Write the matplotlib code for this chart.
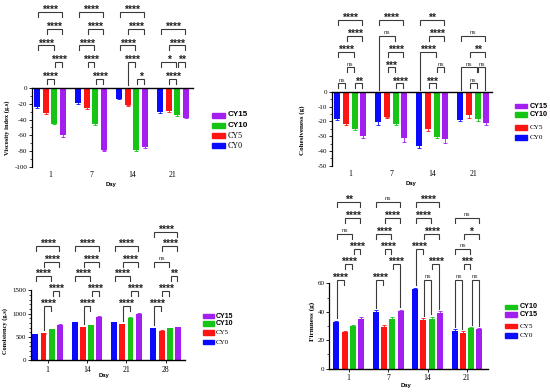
import numpy as np
import matplotlib
matplotlib.use('Agg')
import matplotlib.pyplot as plt
from matplotlib.patches import Rectangle
from matplotlib.transforms import blended_transform_factory
from matplotlib.ticker import MultipleLocator

plt.rcParams['axes.unicode_minus'] = False

# ---------------- data ----------------
series = ['CY0', 'CY5', 'CY10', 'CY15']
days_a = ['1', '7', '14', '21']
days_c = ['1', '14', '21', '28']

# values per series (CY0, CY5, CY10, CY15), per day
viscosity = [[-24, -19, -13.5, -30],
             [-31.5, -25, -22, -28.5],
             [-45, -45.5, -78, -34],
             [-60, -79, -75, -37.5]]
viscosity_err = [[1.5, 1, 1, 2], [2, 1, 1, 2], [1, 1, 2, 1], [1.5, 1, 1, 1]]

cohesiveness = [[-18.3, -20.6, -36.7, -19],
                [-21.7, -17.2, -25.3, -15.8],
                [-25.1, -21.7, -30.3, -18.6],
                [-29.9, -31.4, -32.1, -20.8]]
cohesiveness_err = [[1, 2, 1, 1], [1, 0.5, 1, 1.5], [1, 1, 1, 1], [1.5, 2.5, 2.5, 1.5]]

consistency = [[557, 814, 814, 685],
               [578, 714, 778, 635],
               [664, 757, 914, 692],
               [757, 935, 992, 707]]
consistency_err = [[10, 12, 12, 10], [10, 10, 10, 10], [12, 10, 12, 10], [12, 12, 12, 10]]

firmness = [[32.6, 40.1, 55.8, 26.5],
            [26.0, 29.3, 34.2, 25.3],
            [30.0, 35.2, 35.2, 28.4],
            [35.2, 40.3, 39.4, 27.7]]
firmness_err = [[1, 1, 1, 1.2], [0.8, 1.5, 1.2, 1], [0.8, 1, 1.2, 0.8], [0.8, 1.2, 1, 0.6]]

# significance annotations: (day index, series i, series j, row, label, long legs)
sig_viscosity = [
    (0, 0, 3, 0, '****'), (0, 1, 3, 1, '****'), (0, 0, 2, 2, '****'), (0, 2, 3, 3, '****'), (0, 1, 2, 4, '****'),
    (1, 0, 3, 0, '****'), (1, 1, 3, 1, '****'), (1, 0, 2, 2, '****'), (1, 1, 2, 3, '****'), (1, 2, 3, 4, '****'),
    (2, 0, 3, 0, '****'), (2, 1, 3, 1, '****'), (2, 0, 2, 2, '****'), (2, 1, 2, 3, '****', 'L'), (2, 2, 3, 4, '*'),
    (3, 0, 3, 1, '****'), (3, 1, 3, 2, '****'), (3, 0, 2, 3, '*'), (3, 2, 3, 3, '**'), (3, 1, 2, 4, '****'),
]
sig_cohesiveness = [
    (0, 0, 3, 0, '****'), (0, 1, 3, 1, '****'), (0, 0, 2, 2, '****'), (0, 1, 2, 3, 'ns'), (0, 0, 1, 4, 'ns'), (0, 2, 3, 4, '**'),
    (1, 0, 3, 0, '****'), (1, 0, 2, 1, 'ns', 'L'), (1, 1, 3, 2, '****'), (1, 1, 2, 3, '***'), (1, 2, 3, 4, '****'),
    (2, 0, 3, 0, '**'), (2, 1, 3, 1, '****'), (2, 0, 2, 2, '****', 'L'), (2, 2, 3, 3, 'ns'), (2, 1, 2, 4, '***'),
    (3, 0, 3, 1, 'ns'), (3, 1, 3, 2, '**'), (3, 0, 2, 3, 'ns', 'L'), (3, 2, 3, 3, 'ns', 'R'), (3, 1, 2, 4, 'ns'),
]
sig_consistency = [
    (0, 0, 3, 1, '****'), (0, 1, 3, 2, '****'), (0, 0, 2, 3, '****'), (0, 2, 3, 4, '****'), (0, 1, 2, 5, '****', 'L'),
    (1, 0, 3, 1, '****'), (1, 1, 3, 2, '****'), (1, 0, 2, 3, '****'), (1, 2, 3, 4, '****'), (1, 1, 2, 5, '****', 'L'),
    (2, 0, 3, 1, '****'), (2, 1, 3, 2, '****'), (2, 0, 2, 3, '****'), (2, 2, 3, 4, '****'), (2, 1, 2, 5, '****', 'L'),
    (3, 0, 3, 0, '****'), (3, 1, 3, 1, '****'), (3, 0, 2, 2, 'ns'), (3, 2, 3, 3, '**'), (3, 1, 2, 4, '****'), (3, 0, 1, 5, '****', 'L'),
]
sig_firmness = [
    (0, 0, 3, 0, '**'), (0, 1, 3, 1, '****'), (0, 0, 2, 2, 'ns'), (0, 2, 3, 3, '****'), (0, 1, 2, 4, '****'), (0, 0, 1, 5, '****', 'L'),
    (1, 0, 3, 0, 'ns'), (1, 1, 3, 1, '****'), (1, 0, 2, 2, '****'), (1, 1, 2, 3, '****'), (1, 2, 3, 4, '****', 'R'), (1, 0, 1, 5, '****', 'L'),
    (2, 0, 3, 0, '****'), (2, 0, 2, 1, '****'), (2, 1, 3, 2, '****'), (2, 0, 1, 3, '****', 'L'), (2, 2, 3, 4, '****', 'R'), (2, 1, 2, 5, 'ns', 'B'),
    (3, 0, 3, 1, 'ns'), (3, 1, 3, 2, '*'), (3, 0, 2, 3, 'ns'), (3, 1, 2, 4, '***'), (3, 0, 1, 5, 'ns', 'B'), (3, 2, 3, 5, 'ns', 'B'),
]

# ---------------- style ----------------
W, H = 550, 392
COLORS = {'CY0': '#0a0aff', 'CY5': '#ff1414', 'CY10': '#16c416', 'CY15': '#a21ff0'}
OFFS = [-0.315, -0.105, 0.105, 0.315]
BW = 0.15
LEG = 5.0
SERIF = 'Liberation Serif'
SANS = 'Liberation Sans'

fig = plt.figure(figsize=(W / 100, H / 100), dpi=100)


def fy(py):
    return 1 - py / H


def make_axes(left, right, top, bottom):
    return fig.add_axes([left / W, 1 - bottom / H, (right - left) / W, (bottom - top) / H])


def px_y(ax, x, v):
    return H - ax.transData.transform((x, v))[1]


def panel(ax, vals, errs, xlabels, xlim, ylim, major, minor, negative, ylabel, ylabel_size, ypos_label):
    x = np.arange(len(xlabels))
    for k, s in enumerate(series):
        ax.bar(x + OFFS[k], vals[k], width=BW, color=COLORS[s], zorder=2,
               yerr=errs[k], error_kw=dict(ecolor=COLORS[s], elinewidth=0.6, capsize=1.4, capthick=0.6, zorder=2))
    ax.set_xlim(*xlim)
    ax.set_ylim(*ylim)
    ax.yaxis.set_major_locator(MultipleLocator(major))
    ax.yaxis.set_minor_locator(MultipleLocator(minor))
    ax.set_xticks(x)
    ax.set_xticklabels(xlabels, family=SERIF, fontsize=5.5)
    for lab in ax.get_yticklabels():
        lab.set_family(SERIF)
        lab.set_fontsize(5)
    ax.tick_params(axis='y', which='major', length=2.5, width=0.6, pad=1, labelsize=5)
    ax.tick_params(axis='y', which='minor', length=1.5, width=0.5)
    ax.spines['right'].set_visible(False)
    if negative:
        ax.spines['bottom'].set_visible(False)
        ax.spines['top'].set_linewidth(1.0)
        ax.tick_params(axis='x', length=0, pad=3)
    else:
        ax.spines['top'].set_visible(False)
        ax.spines['bottom'].set_linewidth(1.0)
        ax.tick_params(axis='x', length=2, width=0.6, pad=2)
    ax.spines['left'].set_linewidth(0.9)
    for sp in ax.spines.values():
        sp.set_zorder(3)
    ax.set_facecolor('none')
    fig.text(ypos_label[0] / W, fy(ypos_label[1]), ylabel, rotation=90, ha='center', va='center',
             family=SERIF, fontweight='bold', fontsize=ylabel_size)


def draw_brackets(ax, specs, rows_px, vals, errs, negative):
    trans = blended_transform_factory(ax.transData, fig.transFigure)
    for spec in specs:
        d, i, j, r, lab = spec[:5]
        longs = spec[5] if len(spec) > 5 else ''
        x1 = d + OFFS[i] + 0.02
        x2 = d + OFFS[j] - 0.02
        y = rows_px[r]

        def floor(k, xx):
            if negative:
                return px_y(ax, xx, 0) - 2.5
            return px_y(ax, xx, vals[k][d] + errs[k][d]) - 2.5

        yl = floor(i, x1) if longs in ('L', 'B') else y + LEG
        yr = floor(j, x2) if longs in ('R', 'B') else y + LEG
        ax.plot([x1, x1, x2, x2], [fy(yl), fy(y), fy(y), fy(yr)], transform=trans, clip_on=False,
                color='#3a3a3a', lw=0.8, solid_joinstyle='miter', zorder=4)
        if lab == 'ns':
            ax.text((x1 + x2) / 2, fy(y - 1.8), 'ns', transform=trans, ha='center', va='baseline',
                    fontsize=4.5, family=SANS, color='#333333')
        else:
            ax.text((x1 + x2) / 2, fy(y + 1.2), lab, transform=trans, ha='center', va='baseline',
                    fontsize=7.5, fontweight='bold', family=SANS, color='#222222')


def legend(order, sq_x, sq_w, sq_h, ys, txt_x, size):
    for s, yy in zip(order, ys):
        fig.add_artist(Rectangle((sq_x / W, fy(yy + sq_h / 2)), sq_w / W, sq_h / H,
                                 transform=fig.transFigure, color=COLORS[s]))
        fam = SERIF if s in ('CY5', 'CY0') else SANS
        fig.text(txt_x / W, fy(yy), s, ha='left', va='center', family=fam, fontsize=size,
                 fontweight='bold' if fam == SANS else 'normal')


def day_label(px, py):
    fig.text(px / W, fy(py), 'Day', ha='center', va='center', family=SANS, fontweight='bold', fontsize=4.2)


# ---------- panel 1: viscosity ----------
ax1 = make_axes(32, 193, 88, 167)
panel(ax1, viscosity, viscosity_err, days_a, (-0.44, 3.49), (-100, 0), 20, 10, True,
      'Viscosity index (g.s)', 4.6, (7, 128))
draw_brackets(ax1, sig_viscosity, [12, 28.7, 45.3, 62, 79], viscosity, viscosity_err, True)
legend(['CY15', 'CY10', 'CY5', 'CY0'], 212, 13, 5, [115, 125.3, 135.7, 145.7], 228, 5.8)
day_label(111, 185)

# ---------- panel 2: cohesiveness ----------
ax2 = make_axes(331.7, 491.7, 92, 165.7)
panel(ax2, cohesiveness, cohesiveness_err, days_a, (-0.454, 3.449), (-50, 0), 10, 5, True,
      'Cohesiveness (g)', 5.0, (302, 130))
draw_brackets(ax2, sig_cohesiveness, [20, 35.7, 51.7, 67.3, 83.3], cohesiveness, cohesiveness_err, True)
legend(['CY15', 'CY10', 'CY5', 'CY0'], 515, 12, 4.5, [106, 114.3, 127.7, 137.3], 530, 5.2)
day_label(411, 183)

# ---------- panel 3: consistency ----------
ax3 = make_axes(31, 185, 290.3, 360.3)
panel(ax3, consistency, consistency_err, days_c, (-0.423, 3.49), (0, 1500), 500, 100, False,
      'Consistency (g.s)', 4.6, (5, 331))
draw_brackets(ax3, sig_consistency, [232, 246, 261.5, 275.5, 290.5, 305.5], consistency, consistency_err, False)
legend(['CY15', 'CY10', 'CY5', 'CY0'], 203, 10.5, 4.5, [316, 323.3, 332.7, 342], 216, 5.0)
day_label(104, 376)

# ---------- panel 4: firmness ----------
ax4 = make_axes(329.3, 488, 283.3, 368.7)
panel(ax4, firmness, firmness_err, days_a, (-0.492, 3.533), (0, 60), 20, 10, False,
      'Firmness (g)', 5.2, (312, 321))
draw_brackets(ax4, sig_firmness, [202, 218, 234, 249, 264, 280], firmness, firmness_err, False)
legend(['CY10', 'CY15', 'CY5', 'CY0'], 505, 12, 4.5, [307, 314.3, 326, 335.3], 520, 5.2)
day_label(406, 385)

fig.savefig('out.png', dpi=100)
